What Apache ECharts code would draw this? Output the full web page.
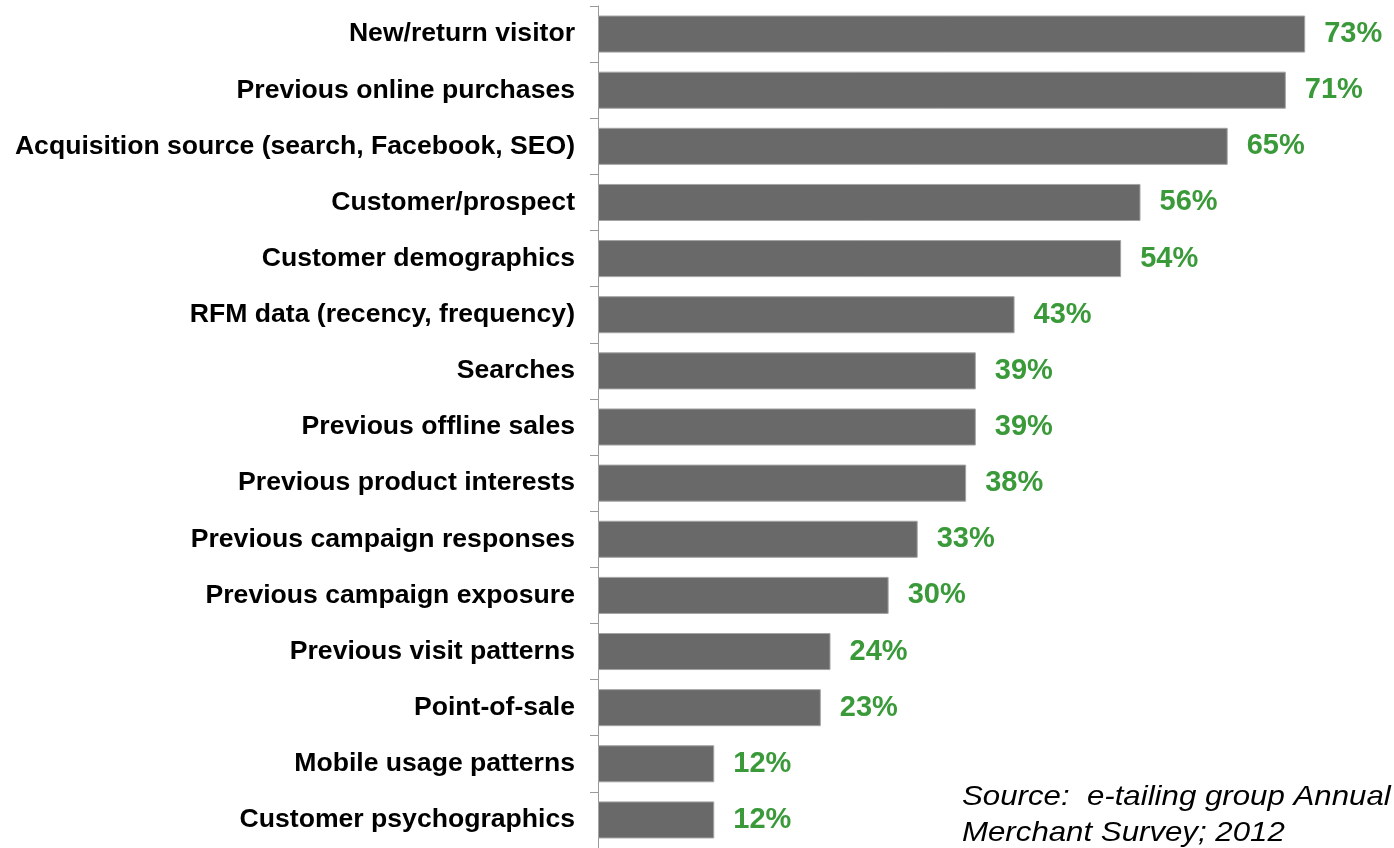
<!DOCTYPE html>
<html>
<head>
<meta charset="utf-8">
<style>
  html, body { margin: 0; padding: 0; background: #fff; }
  #chart { width: 1394px; height: 848px; }
</style>
<script src="https://cdn.jsdelivr.net/npm/echarts@6/dist/echarts.min.js"></script>
</head>
<body>
<div id="chart"></div>
<script>
// Data used by merchants for personalization (% of respondents)
const categories = [
  'New/return visitor',
  'Previous online purchases',
  'Acquisition source (search, Facebook, SEO)',
  'Customer/prospect',
  'Customer demographics',
  'RFM data (recency, frequency)',
  'Searches',
  'Previous offline sales',
  'Previous product interests',
  'Previous campaign responses',
  'Previous campaign exposure',
  'Previous visit patterns',
  'Point-of-sale',
  'Mobile usage patterns',
  'Customer psychographics'
];
const values = [73, 71, 65, 56, 54, 43, 39, 39, 38, 33, 30, 24, 23, 12, 12];
const sourceLines = ['Source:  e-tailing group Annual', 'Merchant Survey; 2012'];

const FONT = 'Liberation Sans, Arial, sans-serif';

const chart = echarts.init(document.getElementById('chart'));
chart.setOption({
  animation: false,
  backgroundColor: '#ffffff',
  grid: { left: 598, top: 6, width: 775, height: 845 },
  xAxis: {
    type: 'value', min: 0, max: 80, show: false
  },
  yAxis: {
    type: 'category',
    data: categories,
    inverse: true,
    axisLine: { show: true, lineStyle: { color: '#9a9a9a', width: 1 } },
    axisTick: { show: true, length: 8, lineStyle: { color: '#9a9a9a' } },
    axisLabel: {
      margin: 23,
      color: '#000',
      fontFamily: FONT,
      fontWeight: 'bold',
      fontSize: 26.6,
      padding: [4, 0, 0, 0]
    },
    splitLine: { show: false }
  },
  series: [{
    type: 'bar',
    data: values,
    barCategoryGap: '34%',
    itemStyle: { color: '#696969', borderColor: '#a3a3a3', borderWidth: 1 },
    label: {
      show: true,
      position: 'right',
      distance: 19,
      formatter: '{c}%',
      color: '#3a9a3a',
      fontFamily: FONT,
      fontWeight: 'bold',
      fontSize: 29,
      padding: [4, 0, 0, 0]
    }
  }],
  graphic: [{
    type: 'text',
    x: 962,
    y: 779,
    scaleX: 1.115,
    style: {
      text: sourceLines.join('\n'),
      fill: '#000',
      fontFamily: FONT,
      fontStyle: 'italic',
      fontSize: 28,
      lineHeight: 36
    }
  }]
});
</script>
</body>
</html>
